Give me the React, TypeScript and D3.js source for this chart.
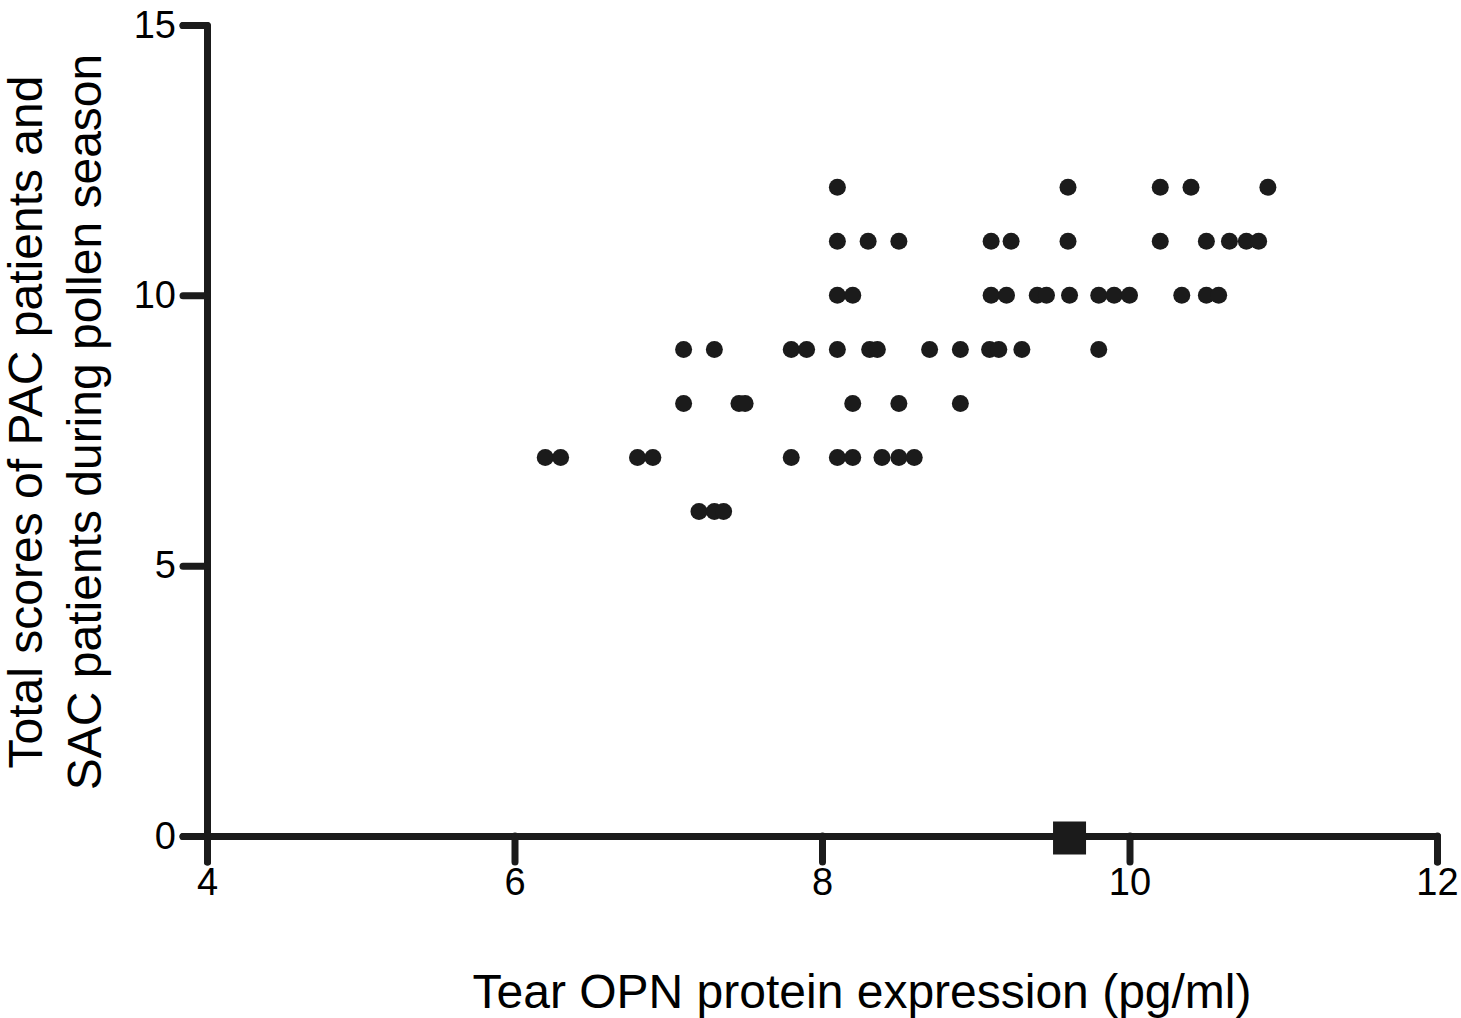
import React, { useEffect, useRef } from 'react';
import * as d3 from 'd3';

// tear OPN (pg/ml) vs total score
const opn = [
  // score 12
  8.1, 9.6, 10.2, 10.4, 10.9,
  // score 11
  8.1, 8.3, 8.5, 9.1, 9.23, 9.6, 10.2, 10.5, 10.65, 10.76, 10.84,
  // score 10
  8.1, 8.2, 9.1, 9.2, 9.4, 9.46, 9.61, 9.8, 9.9, 10.0, 10.34, 10.5, 10.58,
  // score 9
  7.1, 7.3, 7.8, 7.9, 8.1, 8.31, 8.36, 8.7, 8.9, 9.09, 9.15, 9.3, 9.8,
  // score 8
  7.1, 7.46, 7.5, 8.2, 8.5, 8.9,
  // score 7
  6.2, 6.3, 6.8, 6.9, 7.8, 8.1, 8.2, 8.39, 8.5, 8.6,
  // score 6
  7.2, 7.3, 7.36,
];
const scores = [
  12, 12, 12, 12, 12,
  11, 11, 11, 11, 11, 11, 11, 11, 11, 11, 11,
  10, 10, 10, 10, 10, 10, 10, 10, 10, 10, 10, 10, 10,
  9, 9, 9, 9, 9, 9, 9, 9, 9, 9, 9, 9, 9,
  8, 8, 8, 8, 8, 8,
  7, 7, 7, 7, 7, 7, 7, 7, 7, 7,
  6, 6, 6,
];
// square marker sitting on the x axis
const meanMarker = { x: 9.61, y: 0 };

const xTicks = [4, 6, 8, 10, 12];
const yTicks = [0, 5, 10, 15];
const xLabel = 'Tear OPN protein expression (pg/ml)';
const yLabelLines = ['Total scores of PAC patients and', 'SAC patients during pollen season'];

const App = () => {
  const svgRef = useRef<SVGSVGElement>(null);

  useEffect(() => {
    const width = 1461;
    const height = 1018;
    const ink = '#1b1b1b';
    const font = 'Liberation Sans, Arial, Helvetica, sans-serif';

    const svg = d3.select(svgRef.current);
    svg.selectAll('*').remove();

    const x = d3.scaleLinear().domain([4, 12]).range([207, 1437]);
    const y = d3.scaleLinear().domain([0, 15]).range([836, 25]);

    const yAxis = svg
      .append('g')
      .attr('transform', `translate(${x(4)},0)`)
      .call(d3.axisLeft(y).tickValues(yTicks).tickSize(24).tickSizeOuter(24).tickPadding(7));

    const xAxis = svg
      .append('g')
      .attr('transform', `translate(0,${y(0)})`)
      .call(d3.axisBottom(x).tickValues(xTicks).tickSize(26).tickSizeOuter(26).tickPadding(6));

    [xAxis, yAxis].forEach((g) => {
      g.select('.domain')
        .attr('stroke', ink)
        .attr('stroke-width', 7)
        .attr('stroke-linejoin', 'round')
        .attr('stroke-linecap', 'round');
      g.selectAll('.tick line')
        .attr('stroke', ink)
        .attr('stroke-width', 7)
        .attr('stroke-linecap', 'round');
      g.selectAll('.tick text')
        .attr('fill', '#000')
        .attr('font-family', font)
        .attr('font-size', 38);
    });

    const pts = opn.map((v, i) => ({ x: v, y: scores[i] }));
    svg
      .append('g')
      .selectAll('circle')
      .data(pts)
      .join('circle')
      .attr('cx', (d) => x(d.x))
      .attr('cy', (d) => y(d.y))
      .attr('r', 8.5)
      .attr('fill', ink);

    const side = 33;
    svg
      .append('rect')
      .attr('x', x(meanMarker.x) - side / 2)
      .attr('y', y(meanMarker.y) - side / 2 + 2)
      .attr('width', side)
      .attr('height', side)
      .attr('fill', ink);

    svg
      .append('text')
      .attr('x', 862)
      .attr('y', 1008)
      .attr('text-anchor', 'middle')
      .attr('font-family', font)
      .attr('font-size', 48)
      .attr('fill', '#000')
      .text(xLabel);

    svg
      .append('text')
      .attr('transform', 'translate(42,422) rotate(-90)')
      .attr('text-anchor', 'middle')
      .attr('font-family', font)
      .attr('font-size', 48)
      .attr('fill', '#000')
      .selectAll('tspan')
      .data(yLabelLines)
      .join('tspan')
      .attr('x', 0)
      .attr('dy', (d, i) => (i === 0 ? 0 : 59))
      .text((d) => d);

    svg.attr('width', width).attr('height', height);
  }, []);

  return (
    <svg
      ref={svgRef}
      width={1461}
      height={1018}
      style={{ position: 'absolute', left: 0, top: 0, background: '#fff' }}
    />
  );
};

export default App;
